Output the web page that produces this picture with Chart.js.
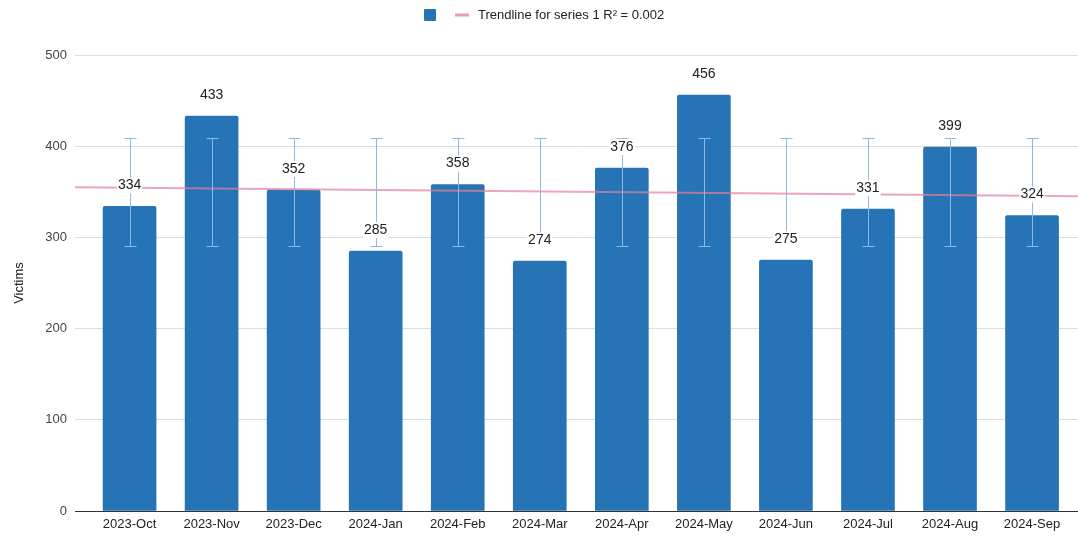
<!DOCTYPE html>
<html>
<head>
<meta charset="utf-8">
<script src="https://cdn.jsdelivr.net/npm/chart.js@4"></script>
<style>
  html, body { margin: 0; padding: 0; background: #fff; }
  #wrap { width: 1078px; height: 536px; }
</style>
</head>
<body>
<div id="wrap"><canvas id="myChart"></canvas></div>
<script>
const categories = ['2023-Oct', '2023-Nov', '2023-Dec', '2024-Jan', '2024-Feb', '2024-Mar',
    '2024-Apr', '2024-May', '2024-Jun', '2024-Jul', '2024-Aug', '2024-Sep'];
const victims = [334, 433, 352, 285, 358, 274, 376, 456, 275, 331, 399, 324];
const errorLow = [291, 291, 291, 291, 291, 291, 291, 291, 291, 291, 291, 291];
const errorHigh = [409, 409, 409, 409, 409, 409, 409, 409, 409, 409, 409, 409];
const trendValues = [355, 345]; // at left and right edge of plot
const yTicks = [0, 100, 200, 300, 400, 500];

const barColor = '#2673b5';
const trendColor = 'rgba(226, 130, 150, 0.7)';
const errColor = '#8fb9e2';
const font = '"Liberation Sans", Arial, sans-serif';

const xMin = -0.665, xMax = 11.56;

const ctx = document.getElementById('myChart').getContext('2d');

// error bars + value labels
const overlay = {
    id: 'overlay',
    afterDatasetsDraw(chart) {
        const c = chart.ctx;
        const xs = chart.scales.x, ys = chart.scales.y;
        c.save();
        c.strokeStyle = errColor;
        c.lineWidth = 1;
        victims.forEach((v, i) => {
            const px = Math.round(xs.getPixelForValue(i)) + 0.5;
            const top = Math.round(ys.getPixelForValue(errorHigh[i])) + 0.5;
            const bot = Math.round(ys.getPixelForValue(errorLow[i])) + 0.5;
            c.beginPath();
            c.moveTo(px, top); c.lineTo(px, bot);
            c.moveTo(px - 6, top); c.lineTo(px + 6, top);
            c.moveTo(px - 6, bot); c.lineTo(px + 6, bot);
            c.stroke();
        });
        c.font = '14px ' + font;
        c.textAlign = 'center';
        c.textBaseline = 'middle';
        victims.forEach((v, i) => {
            const px = xs.getPixelForValue(i);
            const py = ys.getPixelForValue(v) - 21;
            const t = String(v);
            const w = c.measureText(t).width;
            c.fillStyle = '#fff';
            c.fillRect(px - w / 2 - 1, py - 8, w + 2, 16);
            c.fillStyle = '#222';
            c.fillText(t, px, py);
        });
        c.restore();
    },
    afterDraw(chart) {
        const c = chart.ctx;
        c.save();
        c.fillStyle = barColor;
        c.beginPath();
        c.roundRect(424, 9, 12, 12, 1);
        c.fill();
        c.strokeStyle = 'rgba(226, 150, 165, 0.9)';
        c.lineWidth = 3;
        c.beginPath();
        c.moveTo(455, 15); c.lineTo(469, 15);
        c.stroke();
        c.fillStyle = '#222';
        c.font = '13px ' + font;
        c.textBaseline = 'middle';
        c.textAlign = 'left';
        c.fillText('Trendline for series 1 R\u00B2 = 0.002', 478, 15);
        c.restore();
    }
};

const chart = new Chart(ctx, {
    data: {
        datasets: [{
            type: 'bar',
            label: 'Victims',
            data: victims.map((v, i) => ({ x: i, y: v })),
            backgroundColor: barColor,
            borderWidth: 0,
            borderRadius: 2,
            borderSkipped: 'bottom',
            barThickness: 53,
            order: 2
        }, {
            type: 'line',
            label: 'Trendline for series 1 R\u00B2 = 0.002',
            data: [{ x: xMin, y: trendValues[0] }, { x: xMax, y: trendValues[1] }],
            borderColor: trendColor,
            borderWidth: 2,
            pointRadius: 0,
            order: 1
        }]
    },
    options: {
        responsive: true,
        maintainAspectRatio: false,
        animation: false,
        layout: { padding: { top: 55, right: 0, left: 0, bottom: 0 } },
        plugins: {
            legend: { display: false },
            tooltip: { enabled: false }
        },
        scales: {
            x: {
                type: 'linear',
                offset: false,
                min: xMin,
                max: xMax,
                grid: { display: false, drawTicks: false, offset: false },
                border: { display: true, color: '#333', width: 1 },
                ticks: {
                    stepSize: 1,
                    includeBounds: false,
                    autoSkip: false,
                    maxRotation: 0,
                    padding: 6,
                    color: '#222',
                    font: { family: font, size: 13 },
                    callback: (v) => Number.isInteger(v) ? categories[v] : ''
                },
                afterFit: (s) => { s.height = 25; }
            },
            y: {
                min: 0,
                max: 500,
                afterBuildTicks: (s) => { s.ticks = yTicks.map(v => ({ value: v })); },
                grid: { color: '#dddddd', drawTicks: false },
                border: { display: false },
                ticks: {
                    padding: 8,
                    color: '#444',
                    font: { family: font, size: 13 }
                },
                title: {
                    display: true,
                    text: 'Victims',
                    color: '#222',
                    padding: { top: 12, bottom: 0 },
                    font: { family: font, size: 13 }
                },
                afterFit: (s) => { s.width = 75; }
            }
        }
    },
    plugins: [overlay]
});
</script>
</body>
</html>
